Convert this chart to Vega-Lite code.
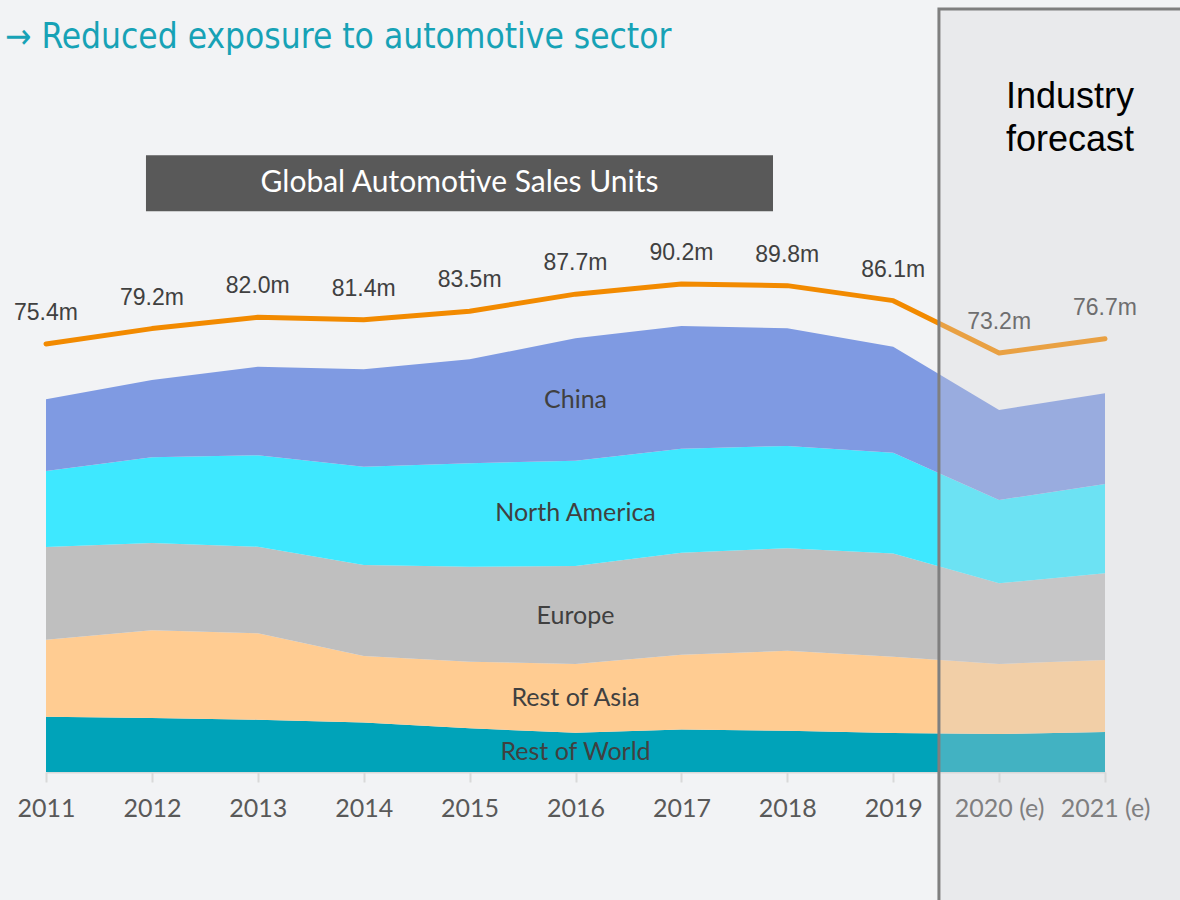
{
  "$schema": "https://vega.github.io/schema/vega-lite/v6.json",
  "width": 1059,
  "height": 495,
  "autosize": "none",
  "padding": {"left": 46, "top": 277, "right": 75, "bottom": 128},
  "background": "#f2f3f5",
  "config": {"view": {"stroke": null}, "font": "Lato"},
  "datasets": {
    "sales": [
      {"year": 2011, "region": "Rest of World", "order": 1, "units": 11.18},
      {"year": 2011, "region": "Rest of Asia", "order": 2, "units": 15.57},
      {"year": 2011, "region": "Europe", "order": 3, "units": 18.75},
      {"year": 2011, "region": "North America", "order": 4, "units": 15.37},
      {"year": 2011, "region": "China", "order": 5, "units": 14.5},
      {"year": 2012, "region": "Rest of World", "order": 1, "units": 10.92},
      {"year": 2012, "region": "Rest of Asia", "order": 2, "units": 17.73},
      {"year": 2012, "region": "Europe", "order": 3, "units": 17.65},
      {"year": 2012, "region": "North America", "order": 4, "units": 17.33},
      {"year": 2012, "region": "China", "order": 5, "units": 15.63},
      {"year": 2013, "region": "Rest of World", "order": 1, "units": 10.58},
      {"year": 2013, "region": "Rest of Asia", "order": 2, "units": 17.47},
      {"year": 2013, "region": "Europe", "order": 3, "units": 17.51},
      {"year": 2013, "region": "North America", "order": 4, "units": 18.48},
      {"year": 2013, "region": "China", "order": 5, "units": 17.92},
      {"year": 2014, "region": "Rest of World", "order": 1, "units": 10.01},
      {"year": 2014, "region": "Rest of Asia", "order": 2, "units": 13.45},
      {"year": 2014, "region": "Europe", "order": 3, "units": 18.4},
      {"year": 2014, "region": "North America", "order": 4, "units": 19.88},
      {"year": 2014, "region": "China", "order": 5, "units": 19.7},
      {"year": 2015, "region": "Rest of World", "order": 1, "units": 8.84},
      {"year": 2015, "region": "Rest of Asia", "order": 2, "units": 13.47},
      {"year": 2015, "region": "Europe", "order": 3, "units": 19.21},
      {"year": 2015, "region": "North America", "order": 4, "units": 20.91},
      {"year": 2015, "region": "China", "order": 5, "units": 21.03},
      {"year": 2016, "region": "Rest of World", "order": 1, "units": 7.95},
      {"year": 2016, "region": "Rest of Asia", "order": 2, "units": 13.89},
      {"year": 2016, "region": "Europe", "order": 3, "units": 19.82},
      {"year": 2016, "region": "North America", "order": 4, "units": 21.29},
      {"year": 2016, "region": "China", "order": 5, "units": 24.75},
      {"year": 2017, "region": "Rest of World", "order": 1, "units": 8.59},
      {"year": 2017, "region": "Rest of Asia", "order": 2, "units": 15.13},
      {"year": 2017, "region": "Europe", "order": 3, "units": 20.63},
      {"year": 2017, "region": "North America", "order": 4, "units": 21.03},
      {"year": 2017, "region": "China", "order": 5, "units": 24.82},
      {"year": 2018, "region": "Rest of World", "order": 1, "units": 8.35},
      {"year": 2018, "region": "Rest of Asia", "order": 2, "units": 16.16},
      {"year": 2018, "region": "Europe", "order": 3, "units": 20.75},
      {"year": 2018, "region": "North America", "order": 4, "units": 20.67},
      {"year": 2018, "region": "China", "order": 5, "units": 23.82},
      {"year": 2019, "region": "Rest of World", "order": 1, "units": 7.89},
      {"year": 2019, "region": "Rest of Asia", "order": 2, "units": 15.43},
      {"year": 2019, "region": "Europe", "order": 3, "units": 20.89},
      {"year": 2019, "region": "North America", "order": 4, "units": 20.34},
      {"year": 2019, "region": "China", "order": 5, "units": 21.46},
      {"year": 2020, "region": "Rest of World", "order": 1, "units": 7.68},
      {"year": 2020, "region": "Rest of Asia", "order": 2, "units": 14.16},
      {"year": 2020, "region": "Europe", "order": 3, "units": 16.32},
      {"year": 2020, "region": "North America", "order": 4, "units": 16.85},
      {"year": 2020, "region": "China", "order": 5, "units": 18.2},
      {"year": 2021, "region": "Rest of World", "order": 1, "units": 8.09},
      {"year": 2021, "region": "Rest of Asia", "order": 2, "units": 14.56},
      {"year": 2021, "region": "Europe", "order": 3, "units": 17.53},
      {"year": 2021, "region": "North America", "order": 4, "units": 18.06},
      {"year": 2021, "region": "China", "order": 5, "units": 18.34}
    ],
    "totals": [
      {"year": 2011, "total": 75.4, "label": "75.4m"},
      {"year": 2012, "total": 79.2, "label": "79.2m"},
      {"year": 2013, "total": 82.0, "label": "82.0m"},
      {"year": 2014, "total": 81.4, "label": "81.4m"},
      {"year": 2015, "total": 83.5, "label": "83.5m"},
      {"year": 2016, "total": 87.7, "label": "87.7m"},
      {"year": 2017, "total": 90.2, "label": "90.2m"},
      {"year": 2018, "total": 89.8, "label": "89.8m"},
      {"year": 2019, "total": 86.1, "label": "86.1m"},
      {"year": 2020, "total": 73.2, "label": "73.2m"},
      {"year": 2021, "total": 76.7, "label": "76.7m"}
    ],
    "regionLabels": [
      {"year": 2016, "pos": 75.2, "text": "China"},
      {"year": 2016, "pos": 52.4, "text": "North America"},
      {"year": 2016, "pos": 31.5, "text": "Europe"},
      {"year": 2016, "pos": 15.0, "text": "Rest of Asia"},
      {"year": 2016, "pos": 4.0, "text": "Rest of World"}
    ],
    "banner": [
      {"x0": 2011.944, "x1": 2017.865, "y0": 113.4, "y1": 124.7, "xc": 2014.905, "yc": 119.2, "text": "Global Automotive Sales Units"}
    ],
    "heading": [
      {"year": 2010.613, "pos": 146.4, "text": "→ Reduced exposure to automotive sector"}
    ],
    "forecastBox": [
      {"x0": 2019.432, "x1": 2021.95, "y0": -28.5, "y1": 154.3}
    ],
    "forecastText": [
      {"year": 2020.67, "pos": 136.5, "text": "Industry"},
      {"year": 2020.67, "pos": 127.8, "text": "forecast"}
    ]
  },
  "layer": [
    {
      "layer": [
        {
          "data": {"name": "sales"},
          "mark": {"type": "area", "interpolate": "linear"},
          "encoding": {
            "x": {
              "field": "year", "type": "quantitative",
              "scale": {"domain": [2011, 2021], "nice": false, "zero": false},
              "axis": {
                "title": null,
                "values": [2011, 2012, 2013, 2014, 2015, 2016, 2017, 2018, 2019, 2020, 2021],
                "format": "d",
                "labelExpr": "datum.value >= 2020 ? datum.label + ' (e)' : datum.label",
                "grid": false,
                "domainColor": "#d9d9d9",
                "domainWidth": 2,
                "tickColor": "#d9d9d9",
                "tickWidth": 2,
                "tickSize": 10,
                "labelFont": "Lato",
                "labelFontSize": 25,
                "labelColor": "#595959",
                "labelPadding": 14,
                "labelFlush": false,
                "labelOverlap": false
              }
            },
            "y": {
              "field": "units", "type": "quantitative", "stack": "zero",
              "scale": {"domain": [0, 100.1], "nice": false, "zero": false},
              "axis": null
            },
            "color": {
              "field": "region", "type": "nominal",
              "scale": {
                "domain": ["Rest of World", "Rest of Asia", "Europe", "North America", "China"],
                "range": ["#00a3b9", "#ffcc92", "#bfbfbf", "#3ee8ff", "#7f9ae2"]
              },
              "legend": null
            },
            "order": {"field": "order", "type": "quantitative"}
          }
        },
        {
          "data": {"name": "regionLabels"},
          "mark": {"type": "text", "font": "Lato", "fontSize": 25, "color": "#404040", "baseline": "middle", "align": "center"},
          "encoding": {
            "x": {"field": "year", "type": "quantitative"},
            "y": {"field": "pos", "type": "quantitative"},
            "text": {"field": "text"}
          }
        },
        {
          "data": {"name": "banner"},
          "mark": {"type": "rect", "color": "#595959"},
          "encoding": {
            "x": {"field": "x0", "type": "quantitative"},
            "x2": {"field": "x1"},
            "y": {"field": "y0", "type": "quantitative"},
            "y2": {"field": "y1"}
          }
        },
        {
          "data": {"name": "banner"},
          "mark": {"type": "text", "font": "Lato", "fontSize": 30, "color": "#ffffff", "baseline": "middle", "align": "center"},
          "encoding": {
            "x": {"field": "xc", "type": "quantitative"},
            "y": {"field": "yc", "type": "quantitative"},
            "text": {"field": "text"}
          }
        },
        {
          "data": {"name": "heading"},
          "mark": {"type": "text", "font": "Liberation Sans Narrow, DejaVu Sans Condensed, sans-serif", "fontSize": 35, "color": "#17a2b6", "baseline": "alphabetic", "align": "left"},
          "encoding": {
            "x": {"field": "year", "type": "quantitative"},
            "y": {"field": "pos", "type": "quantitative"},
            "text": {"field": "text"}
          }
        }
      ]
    },
    {
      "layer": [
        {
          "data": {"name": "totals"},
          "mark": {"type": "line", "color": "#f28a00", "strokeWidth": 5, "strokeCap": "round", "strokeJoin": "round"},
          "encoding": {
            "x": {"field": "year", "type": "quantitative"},
            "y": {
              "field": "total", "type": "quantitative",
              "scale": {"domain": [-30.17, 91.93], "nice": false, "zero": false},
              "axis": null
            }
          }
        },
        {
          "data": {"name": "totals"},
          "mark": {"type": "text", "font": "Liberation Sans", "fontSize": 23, "color": "#404040", "baseline": "middle", "align": "center", "dy": -31},
          "encoding": {
            "x": {"field": "year", "type": "quantitative"},
            "y": {"field": "total", "type": "quantitative"},
            "text": {"field": "label"}
          }
        }
      ]
    },
    {
      "layer": [
        {
          "data": {"name": "forecastBox"},
          "mark": {"type": "rect", "fill": "#d5d6d9", "fillOpacity": 0.31, "stroke": "#7f7f7f", "strokeWidth": 3},
          "encoding": {
            "x": {"field": "x0", "type": "quantitative"},
            "x2": {"field": "x1"},
            "y": {
              "field": "y0", "type": "quantitative",
              "scale": {"domain": [0, 100.1], "nice": false, "zero": false},
              "axis": null
            },
            "y2": {"field": "y1"}
          }
        },
        {
          "data": {"name": "forecastText"},
          "mark": {"type": "text", "font": "Liberation Sans", "fontSize": 36, "color": "#000000", "baseline": "middle", "align": "center"},
          "encoding": {
            "x": {"field": "year", "type": "quantitative"},
            "y": {"field": "pos", "type": "quantitative"},
            "text": {"field": "text"}
          }
        }
      ]
    }
  ],
  "resolve": {"scale": {"y": "independent"}}
}
